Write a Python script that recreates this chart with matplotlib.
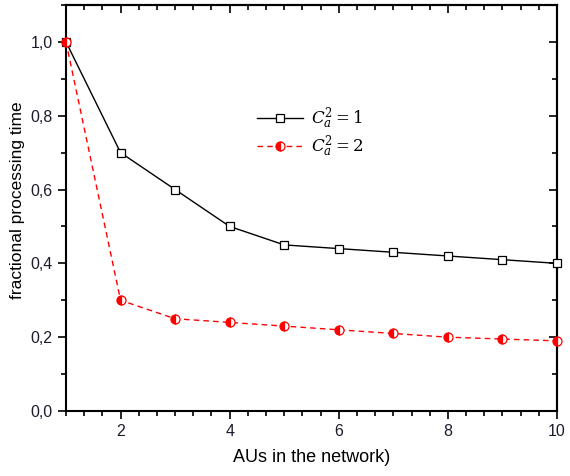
import matplotlib
matplotlib.use("Agg")
import matplotlib.pyplot as plt
from matplotlib.ticker import MultipleLocator, FuncFormatter

plt.rcParams['font.family'] = ['Liberation Sans', 'DejaVu Sans']
plt.rcParams['mathtext.fontset'] = 'dejavuserif'

x = [1, 2, 3, 4, 5, 6, 7, 8, 9, 10]
ca1 = [1.0, 0.70, 0.60, 0.50, 0.45, 0.44, 0.43, 0.42, 0.41, 0.40]
ca2 = [1.0, 0.30, 0.25, 0.24, 0.23, 0.22, 0.21, 0.20, 0.195, 0.19]
labels = [r'$C_a^2=1$', r'$C_a^2=2$']

fig = plt.figure(figsize=(5.7, 4.76), dpi=100)
ax = fig.add_axes([66/570, 1 - 411/476, (557-66)/570, (411-5)/476])

ax.plot(x, ca1, color='black', lw=1.0, marker='s', ms=6, mfc='white',
        mec='black', mew=0.9, label=labels[0], clip_on=False, zorder=3)
ax.plot(x, ca2, color='red', lw=1.0, ls=(0, (4, 3)), marker='o', ms=6.5,
        fillstyle='left', mfc='red', mfcalt='white', mec='red', mew=0.9,
        label=labels[1], clip_on=False, zorder=3)

ax.set_xlim(1, 10)
ax.set_ylim(0, 1.1)
ax.xaxis.set_major_locator(MultipleLocator(2))
ax.xaxis.set_minor_locator(MultipleLocator(1/3))
ax.yaxis.set_major_locator(MultipleLocator(0.2))
ax.yaxis.set_minor_locator(MultipleLocator(0.1))
ax.yaxis.set_major_formatter(FuncFormatter(lambda v, p: f"{v:.1f}".replace('.', ',')))

ax.tick_params(which='both', direction='out', top=False, right=False,
               labelsize=11.5, labelcolor='#1c1c2c', width=1.2)
ax.tick_params(which='major', length=6)
ax.tick_params(which='minor', length=3.5)

# secondary axes for inward ticks on top and right
axt = ax.secondary_xaxis('top')
axt.xaxis.set_major_locator(MultipleLocator(2))
axt.xaxis.set_minor_locator(MultipleLocator(1/3))
axt.tick_params(which='both', direction='in', labeltop=False, width=1.2)
axt.tick_params(which='major', length=6)
axt.tick_params(which='minor', length=3.5)
axr = ax.secondary_yaxis('right')
axr.yaxis.set_major_locator(MultipleLocator(0.2))
axr.yaxis.set_minor_locator(MultipleLocator(0.1))
axr.tick_params(which='both', direction='in', labelright=False, width=1.2)
axr.tick_params(which='major', length=6)
axr.tick_params(which='minor', length=3.5)

for s in ax.spines.values():
    s.set_linewidth(1.5)
axt.spines['top'].set_linewidth(1.5)
axr.spines['right'].set_linewidth(1.5)

ax.set_xlabel('AUs in the network)', fontsize=13, labelpad=7)
ax.set_ylabel('fractional processing time', fontsize=12.5, labelpad=3)
ax.yaxis.set_label_coords(-0.083, 0.52)

leg = ax.legend(loc='upper left', bbox_to_anchor=(0.358, 0.79), frameon=False,
                fontsize=12, handlelength=2.8, labelspacing=0.1, handletextpad=0.45)

fig.savefig('out.png', dpi=100)
